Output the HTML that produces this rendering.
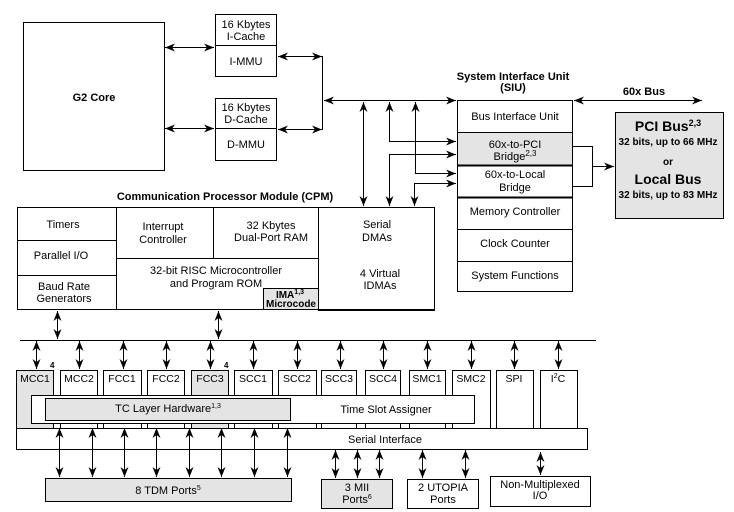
<!DOCTYPE html>
<html><head><meta charset="utf-8"><style>
html,body{margin:0;padding:0;background:#fff;}
svg{display:block;font-family:"Liberation Sans",Arial,sans-serif;}
text{font-size:11px;fill:#000;}
.b{font-weight:bold;}
</style></head><body>
<svg width="734" height="512" viewBox="0 0 734 512" xmlns="http://www.w3.org/2000/svg">
<defs>
<marker id="a" viewBox="0 0 10 8" refX="10" refY="4" markerWidth="10" markerHeight="8" markerUnits="userSpaceOnUse" orient="auto-start-reverse"><path d="M0,0 L10,4 L0,8 L3,4 z" fill="#000"/></marker>
</defs>
<g fill="none" stroke="#000" stroke-width="1">
<rect x="23.5" y="22.5" width="141" height="148"/>
<rect x="215.5" y="14.5" width="61" height="62"/><line x1="215" y1="45.5" x2="277" y2="45.5"/>
<rect x="215.5" y="98.5" width="61" height="62"/><line x1="215" y1="128.5" x2="277" y2="128.5"/>
<line x1="165" y1="47.5" x2="214" y2="47.5" marker-start="url(#a)" marker-end="url(#a)"/>
<line x1="165" y1="128.5" x2="214" y2="128.5" marker-start="url(#a)" marker-end="url(#a)"/>
<line x1="278" y1="56.5" x2="322" y2="56.5" marker-start="url(#a)" marker-end="url(#a)"/>
<line x1="278" y1="129.5" x2="322" y2="129.5" marker-start="url(#a)" marker-end="url(#a)"/>
<line x1="322.5" y1="56" x2="322.5" y2="130"/>
<line x1="324" y1="100.5" x2="456" y2="100.5" marker-start="url(#a)" marker-end="url(#a)"/>
<line x1="363.5" y1="102" x2="363.5" y2="206" marker-start="url(#a)" marker-end="url(#a)"/>
<polyline points="456,141.5 389.5,141.5 389.5,102" marker-start="url(#a)" marker-end="url(#a)"/>
<polyline points="456,154.5 389.5,154.5 389.5,206" marker-start="url(#a)" marker-end="url(#a)"/>
<polyline points="456,173.5 415.5,173.5 415.5,102" marker-start="url(#a)" marker-end="url(#a)"/>
<polyline points="456,183.5 414.5,183.5 414.5,206" marker-start="url(#a)" marker-end="url(#a)"/>
<rect x="457.5" y="132.5" width="115" height="33" fill="#e4e4e4"/>
<rect x="457.5" y="100.5" width="115" height="191"/>
<line x1="457" y1="132.5" x2="573" y2="132.5"/>
<line x1="457" y1="165.5" x2="573" y2="165.5" stroke-width="2"/>
<line x1="457" y1="197.5" x2="573" y2="197.5" stroke-width="2"/>
<line x1="457" y1="229.5" x2="573" y2="229.5"/>
<line x1="457" y1="261.5" x2="573" y2="261.5"/>
<line x1="574" y1="100.5" x2="702" y2="100.5" marker-start="url(#a)" marker-end="url(#a)"/>
<polyline points="573,146.5 592.5,146.5 592.5,186.5 573,186.5"/>
<line x1="592" y1="166.5" x2="614" y2="166.5" marker-end="url(#a)"/>
<rect x="615.5" y="112.5" width="108" height="106" fill="#e4e4e4"/>
<rect x="17.5" y="207.5" width="417" height="102"/>
<line x1="318.5" y1="207" x2="318.5" y2="310"/>
<line x1="116.5" y1="207" x2="116.5" y2="310"/>
<line x1="17" y1="240.5" x2="117" y2="240.5"/>
<line x1="17" y1="275.5" x2="117" y2="275.5"/>
<line x1="116" y1="258.5" x2="319" y2="258.5"/>
<line x1="213.5" y1="207" x2="213.5" y2="259"/>
<rect x="263.5" y="288.5" width="55" height="21" fill="#e4e4e4"/>
<line x1="318" y1="310" x2="435" y2="310" stroke-width="2"/>
<line x1="57.5" y1="311" x2="57.5" y2="339" marker-start="url(#a)" marker-end="url(#a)"/>
<line x1="218.5" y1="311" x2="218.5" y2="339" marker-start="url(#a)" marker-end="url(#a)"/>
<line x1="20" y1="340.5" x2="596" y2="340.5"/>
</g>
<g fill="none" stroke="#000">
<rect x="16.5" y="370.5" width="37" height="58" fill="#e4e4e4"/>
<rect x="60.5" y="370.5" width="37" height="58"/>
<rect x="103.5" y="370.5" width="38" height="58"/>
<rect x="147.5" y="370.5" width="37" height="58"/>
<rect x="191.5" y="370.5" width="37" height="58" fill="#e4e4e4"/>
<rect x="234.5" y="370.5" width="38" height="58"/>
<rect x="278.5" y="370.5" width="38" height="58"/>
<rect x="321.5" y="370.5" width="35" height="58"/>
<rect x="365.5" y="370.5" width="35" height="58"/>
<rect x="409.5" y="370.5" width="36" height="58"/>
<rect x="452.5" y="370.5" width="38" height="58"/>
<rect x="496.5" y="370.5" width="37" height="58"/>
<rect x="540.5" y="370.5" width="37" height="58"/>
<rect x="31.5" y="395.5" width="443" height="28" fill="#fff"/>
<rect x="45.5" y="398.5" width="245" height="22" fill="#e4e4e4"/>
<rect x="16.5" y="428.5" width="571" height="21" fill="#fff"/>
<rect x="45.5" y="478.5" width="246" height="23" fill="#e4e4e4"/>
<rect x="321.5" y="479.5" width="71" height="29" fill="#e4e4e4"/>
<rect x="407.5" y="479.5" width="71" height="29"/>
<rect x="490.5" y="476.5" width="100" height="30"/>
</g>
<g stroke="#000" stroke-width="1">
<line x1="36.5" y1="341" x2="36.5" y2="369" marker-start="url(#a)" marker-end="url(#a)"/>
<line x1="79.5" y1="341" x2="79.5" y2="369" marker-start="url(#a)" marker-end="url(#a)"/>
<line x1="123.5" y1="341" x2="123.5" y2="369" marker-start="url(#a)" marker-end="url(#a)"/>
<line x1="166.5" y1="341" x2="166.5" y2="369" marker-start="url(#a)" marker-end="url(#a)"/>
<line x1="210.5" y1="341" x2="210.5" y2="369" marker-start="url(#a)" marker-end="url(#a)"/>
<line x1="253.5" y1="341" x2="253.5" y2="369" marker-start="url(#a)" marker-end="url(#a)"/>
<line x1="297.5" y1="341" x2="297.5" y2="369" marker-start="url(#a)" marker-end="url(#a)"/>
<line x1="340.5" y1="341" x2="340.5" y2="369" marker-start="url(#a)" marker-end="url(#a)"/>
<line x1="383.5" y1="341" x2="383.5" y2="369" marker-start="url(#a)" marker-end="url(#a)"/>
<line x1="427.5" y1="341" x2="427.5" y2="369" marker-start="url(#a)" marker-end="url(#a)"/>
<line x1="471.5" y1="341" x2="471.5" y2="369" marker-start="url(#a)" marker-end="url(#a)"/>
<line x1="514.5" y1="341" x2="514.5" y2="369" marker-start="url(#a)" marker-end="url(#a)"/>
<line x1="558.5" y1="341" x2="558.5" y2="369" marker-start="url(#a)" marker-end="url(#a)"/>
<line x1="59.5" y1="428" x2="59.5" y2="477" marker-start="url(#a)" marker-end="url(#a)"/>
<line x1="92.5" y1="428" x2="92.5" y2="477" marker-start="url(#a)" marker-end="url(#a)"/>
<line x1="124.5" y1="428" x2="124.5" y2="477" marker-start="url(#a)" marker-end="url(#a)"/>
<line x1="156.5" y1="428" x2="156.5" y2="477" marker-start="url(#a)" marker-end="url(#a)"/>
<line x1="189.5" y1="428" x2="189.5" y2="477" marker-start="url(#a)" marker-end="url(#a)"/>
<line x1="221.5" y1="428" x2="221.5" y2="477" marker-start="url(#a)" marker-end="url(#a)"/>
<line x1="254.5" y1="428" x2="254.5" y2="477" marker-start="url(#a)" marker-end="url(#a)"/>
<line x1="287.5" y1="428" x2="287.5" y2="477" marker-start="url(#a)" marker-end="url(#a)"/>
<line x1="335.5" y1="450" x2="335.5" y2="478" marker-start="url(#a)" marker-end="url(#a)"/>
<line x1="357.5" y1="450" x2="357.5" y2="478" marker-start="url(#a)" marker-end="url(#a)"/>
<line x1="379.5" y1="450" x2="379.5" y2="478" marker-start="url(#a)" marker-end="url(#a)"/>
<line x1="422.5" y1="450" x2="422.5" y2="478" marker-start="url(#a)" marker-end="url(#a)"/>
<line x1="465.5" y1="450" x2="465.5" y2="478" marker-start="url(#a)" marker-end="url(#a)"/>
<line x1="540.5" y1="452" x2="540.5" y2="475" marker-start="url(#a)" marker-end="url(#a)"/>
</g>
<g text-anchor="middle">
<text x="94" y="101" class="b">G2 Core</text>
<text x="246" y="28">16 Kbytes</text><text x="246" y="40">I-Cache</text>
<text x="246" y="65">I-MMU</text>
<text x="246" y="111">16 Kbytes</text><text x="246" y="123">D-Cache</text>
<text x="246" y="148">D-MMU</text>
<text x="513" y="80" class="b">System Interface Unit</text>
<text x="513" y="91" class="b">(SIU)</text>
<text x="644" y="95" class="b">60x Bus</text>
<text x="515" y="120">Bus Interface Unit</text>
<text x="515" y="148">60x-to-PCI</text>
<text x="515" y="160">Bridge<tspan font-size="8" dy="-4">2,3</tspan></text>
<text x="515" y="178">60x-to-Local</text>
<text x="515" y="191">Bridge</text>
<text x="515" y="215">Memory Controller</text>
<text x="515" y="247">Clock Counter</text>
<text x="515" y="279">System Functions</text>
<text x="668" y="131" class="b" style="font-size:14px">PCI Bus<tspan font-size="9" dy="-5">2,3</tspan></text>
<text x="668" y="145" class="b" style="font-size:10px">32 bits, up to 66 MHz</text>
<text x="668" y="165" class="b" style="font-size:10px">or</text>
<text x="668" y="184" class="b" style="font-size:14px">Local Bus</text>
<text x="668" y="198" class="b" style="font-size:10px">32 bits, up to 83 MHz</text>
<text x="225" y="200" class="b">Communication Processor Module (CPM)</text>
<text x="63" y="228">Timers</text>
<text x="61" y="259">Parallel I/O</text>
<text x="64" y="290">Baud Rate</text><text x="64" y="302">Generators</text>
<text x="163" y="230">Interrupt</text><text x="163" y="243">Controller</text>
<text x="271" y="229">32 Kbytes</text><text x="271" y="241">Dual-Port RAM</text>
<text x="216" y="274">32-bit RISC Microcontroller</text><text x="216" y="287">and Program ROM</text>
<text x="290" y="298" class="b" style="font-size:10px">IMA<tspan font-size="7" dy="-4">1,3</tspan></text>
<text x="291" y="307" class="b" style="font-size:10px">Microcode</text>
<text x="377" y="228">Serial</text><text x="377" y="241">DMAs</text>
<text x="380" y="277">4 Virtual</text><text x="380" y="289">IDMAs</text>
</g>
<g text-anchor="middle">
<text x="35" y="382" style="font-size:10.5px">MCC1</text>
<text x="79" y="382" style="font-size:10.5px">MCC2</text>
<text x="122" y="382" style="font-size:10.5px">FCC1</text>
<text x="166" y="382" style="font-size:10.5px">FCC2</text>
<text x="210" y="382" style="font-size:10.5px">FCC3</text>
<text x="253" y="382" style="font-size:10.5px">SCC1</text>
<text x="297" y="382" style="font-size:10.5px">SCC2</text>
<text x="339" y="382" style="font-size:10.5px">SCC3</text>
<text x="383" y="382" style="font-size:10.5px">SCC4</text>
<text x="427" y="382" style="font-size:10.5px">SMC1</text>
<text x="471" y="382" style="font-size:10.5px">SMC2</text>
<text x="514" y="382" style="font-size:10.5px">SPI</text>
<text x="558" y="382" style="font-size:10.5px">I<tspan font-size="7" dy="-4">2</tspan><tspan dy="4">C</tspan></text>
<text x="168" y="412">TC Layer Hardware<tspan font-size="7" dy="-4">1,3</tspan></text>
<text x="386" y="413">Time Slot Assigner</text>
<text x="385" y="443">Serial Interface</text>
<text x="168" y="494">8 TDM Ports<tspan font-size="7" dy="-4">5</tspan></text>
<text x="357" y="491">3 MII</text><text x="357" y="503">Ports<tspan font-size="7" dy="-4">6</tspan></text>
<text x="443" y="491">2 UTOPIA</text><text x="443" y="503">Ports</text>
<text x="540" y="488">Non-Multiplexed</text><text x="540" y="499">I/O</text>
</g>
<text x="50" y="368" class="b" style="font-size:8px">4</text>
<text x="224" y="368" class="b" style="font-size:8px">4</text>
</svg>
</body></html>
